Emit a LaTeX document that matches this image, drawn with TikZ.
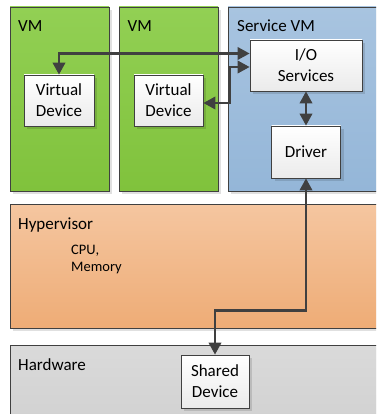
\documentclass[tikz,border=0pt]{standalone}
\usepackage{fontspec}
\setmainfont{Carlito}
\usepackage{xcolor}
\usetikzlibrary{arrows.meta,shadows}

\definecolor{bordure}{RGB}{64,64,64}
\definecolor{vertHaut}{RGB}{146,208,84}
\definecolor{vertBas}{RGB}{128,194,60}
\definecolor{bleuHaut}{RGB}{168,196,224}
\definecolor{bleuBas}{RGB}{148,182,216}
\definecolor{orangeHaut}{RGB}{245,198,160}
\definecolor{orangeBas}{RGB}{238,172,118}
\definecolor{grisHaut}{RGB}{218,218,218}
\definecolor{grisBas}{RGB}{208,208,208}

\tikzset{
couche/.style={
draw=bordure,
line width=0.8pt,
inner sep=0pt,
drop shadow={shadow xshift=3pt, shadow yshift=-3pt, fill=black, opacity=0.12}
},
boite/.style={
couche,
top color=white,
bottom color=black!8,
align=center,
font=\fontsize{17}{21}\selectfont
},
titre/.style={
anchor=base west,
inner sep=0pt,
font=\fontsize{17}{20}\selectfont
},
lien/.style={
draw=bordure,
line width=2.2pt,
{Triangle[length=12pt,width=12.5pt]}-{Triangle[length=12pt,width=12.5pt]}
}
}

\begin{document}
\begin{tikzpicture}[x=1pt, y=-1pt]

% Cadre de l'image
\useasboundingbox (0,0) rectangle (376,414);
\clip (0,0) rectangle (376,414);

% Machines virtuelles
\node[
couche,
top color=vertHaut,
bottom color=vertBas,
minimum width=99pt,
minimum height=184pt
] (vmA) at (59.5,99) {};

\node[
couche,
top color=vertHaut,
bottom color=vertBas,
minimum width=99pt,
minimum height=184pt
] (vmB) at (168.5,99) {};

\node[
couche,
top color=bleuHaut,
bottom color=bleuBas,
minimum width=170pt,
minimum height=184pt
] (svm) at (313,99) {};

% Hyperviseur et matériel
\node[
couche,
top color=orangeHaut,
bottom color=orangeBas,
minimum width=390pt,
minimum height=124pt
] (hyp) at (205,266) {};

\node[
couche,
top color=grisHaut,
bottom color=grisBas,
minimum width=390pt,
minimum height=90pt
] (hw) at (205,390) {};

% Titres
\node[titre] (tVmA) at (18,32) {VM};
\node[titre] (tVmB) at (127.5,32) {VM};
\node[titre] (tSvm) at (237,32) {Service VM};
\node[titre] (tHyp) at (18,229) {Hypervisor};
\node[titre] (tHw) at (18,370) {Hardware};

\node[
anchor=north west,
inner sep=0pt,
align=left,
font=\fontsize{14.5}{17}\selectfont
] (ressources) at (71,245) {CPU,\\Memory};

% Boites internes
\node[boite, minimum width=70pt, minimum height=51pt] (vdA) at (59,100.5) {Virtual\\Device};
\node[boite, minimum width=69pt, minimum height=51pt] (vdB) at (168.5,100.5) {Virtual\\Device};
\node[boite, minimum width=112pt, minimum height=51pt] (io) at (306,65.5) {I/O\\Services};
\node[boite, minimum width=69pt, minimum height=52pt] (drv) at (306,152) {Driver};
\node[boite, minimum width=68pt, minimum height=53pt] (sd) at (215,381.5) {Shared\\Device};

% Liaisons
\draw[lien] (vdA.north) |- ([yshift=12pt]io.west);
\draw[lien] ([yshift=-2.5pt]vdB.east) -- ++(26,0) |- ([yshift=-1.5pt]io.west);
\draw[lien] (io.south) -- (drv.north);
\draw[lien] (drv.south) -- ++(0,132) -| (sd.north);

\end{tikzpicture}
\end{document}
